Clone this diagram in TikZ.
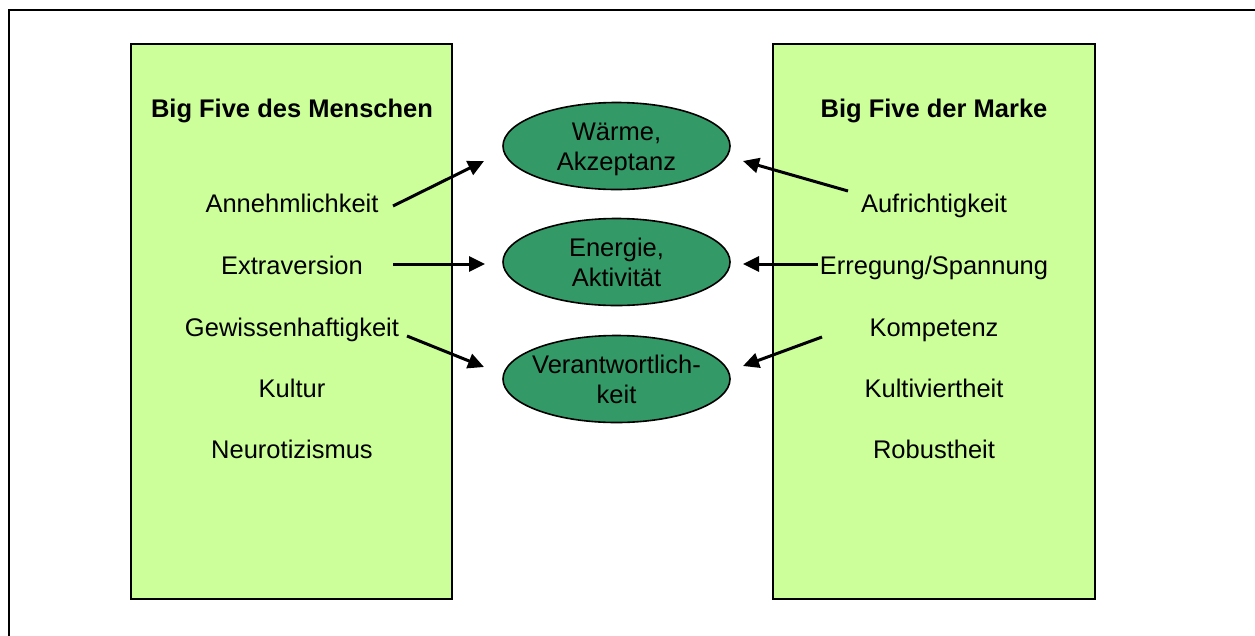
\documentclass[tikz,border=0pt]{standalone}
\usepackage{fontspec}
\setmainfont{Liberation Sans}
\usetikzlibrary{arrows.meta,shapes.geometric}
\definecolor{boxgreen}{HTML}{CCFF99}
\definecolor{ovalgreen}{HTML}{339966}
\begin{document}
\begin{tikzpicture}[x=1pt,y=-1pt,
  txt/.style={font=\fontsize{25.5}{32}\selectfont, inner sep=0pt, anchor=center,
    text height=18.3pt, text depth=0pt},
  head/.style={txt, font=\fontsize{25.5}{32}\selectfont\bfseries},
  panel/.style={draw=black, line width=2pt, fill=boxgreen},
  oval/.style={ellipse, draw=black, line width=1.6pt, fill=ovalgreen,
    minimum width=227pt, minimum height=87pt, inner sep=0pt},
  link/.style={line width=3pt, -{Triangle[length=16pt,width=15pt]}}]
\useasboundingbox (0,0) rectangle (1255,635);
% frame (only its top and left edges fall inside the page)
\draw[line width=2.2pt] (1262,10) -- (9,10) -- (9,642);
% the two panels
\node[panel, minimum width=321pt, minimum height=555pt, inner sep=0pt] (pm) at (291.5,321.5) {};
\node[panel, minimum width=322pt, minimum height=555pt, inner sep=0pt] (pb) at (934,321.5) {};
% left panel texts
\node[head] (hm) at (292,108.5) {Big Five des Menschen};
\node[txt] (m1) at (292,203) {Annehmlichkeit};
\node[txt] (m2) at (292,265) {Extraversion};
\node[txt] (m3) at (292,327) {Gewissenhaftigkeit};
\node[txt] (m4) at (292,388) {Kultur};
\node[txt] (m5) at (292,449) {Neurotizismus};
% right panel texts
\node[head] (hb) at (934,108.5) {Big Five der Marke};
\node[txt] (b1) at (934,203) {Aufrichtigkeit};
\node[txt] (b2) at (934,265) {Erregung/Spannung};
\node[txt] (b3) at (934,327) {Kompetenz};
\node[txt] (b4) at (934,388) {Kultiviertheit};
\node[txt] (b5) at (934,449) {Robustheit};
% shared dimensions
\node[oval] (o1) at (616.5,146) {};
\node[oval] (o2) at (616.5,262) {};
\node[oval] (o3) at (616.5,379) {};
\node[txt] (o1a) at (616.5,131.5) {Wärme,};
\node[txt] (o1b) at (616.5,161.5) {Akzeptanz};
\node[txt] (o2a) at (616.5,247.5) {Energie,};
\node[txt] (o2b) at (616.5,277.5) {Aktivität};
\node[txt] (o3a) at (616.5,364.5) {Verantwortlich-};
\node[txt] (o3b) at (616.5,394.5) {keit};
% arrow ends
\coordinate (ms1) at (393,206);
\coordinate (ms2) at (393,264);
\coordinate (ms3) at (407,336);
\coordinate (mt1) at (484,161);
\coordinate (mt2) at (485,264);
\coordinate (mt3) at (484,367);
\coordinate (bs1) at (848,191);
\coordinate (bs2) at (818,264);
\coordinate (bs3) at (822,337);
\coordinate (bt1) at (743,161);
\coordinate (bt2) at (743,264);
\coordinate (bt3) at (743,366);
\draw[link] (ms1) -- (mt1);
\draw[link] (ms2) -- (mt2);
\draw[link] (ms3) -- (mt3);
\draw[link] (bs1) -- (bt1);
\draw[link] (bs2) -- (bt2);
\draw[link] (bs3) -- (bt3);
\end{tikzpicture}
\end{document}
